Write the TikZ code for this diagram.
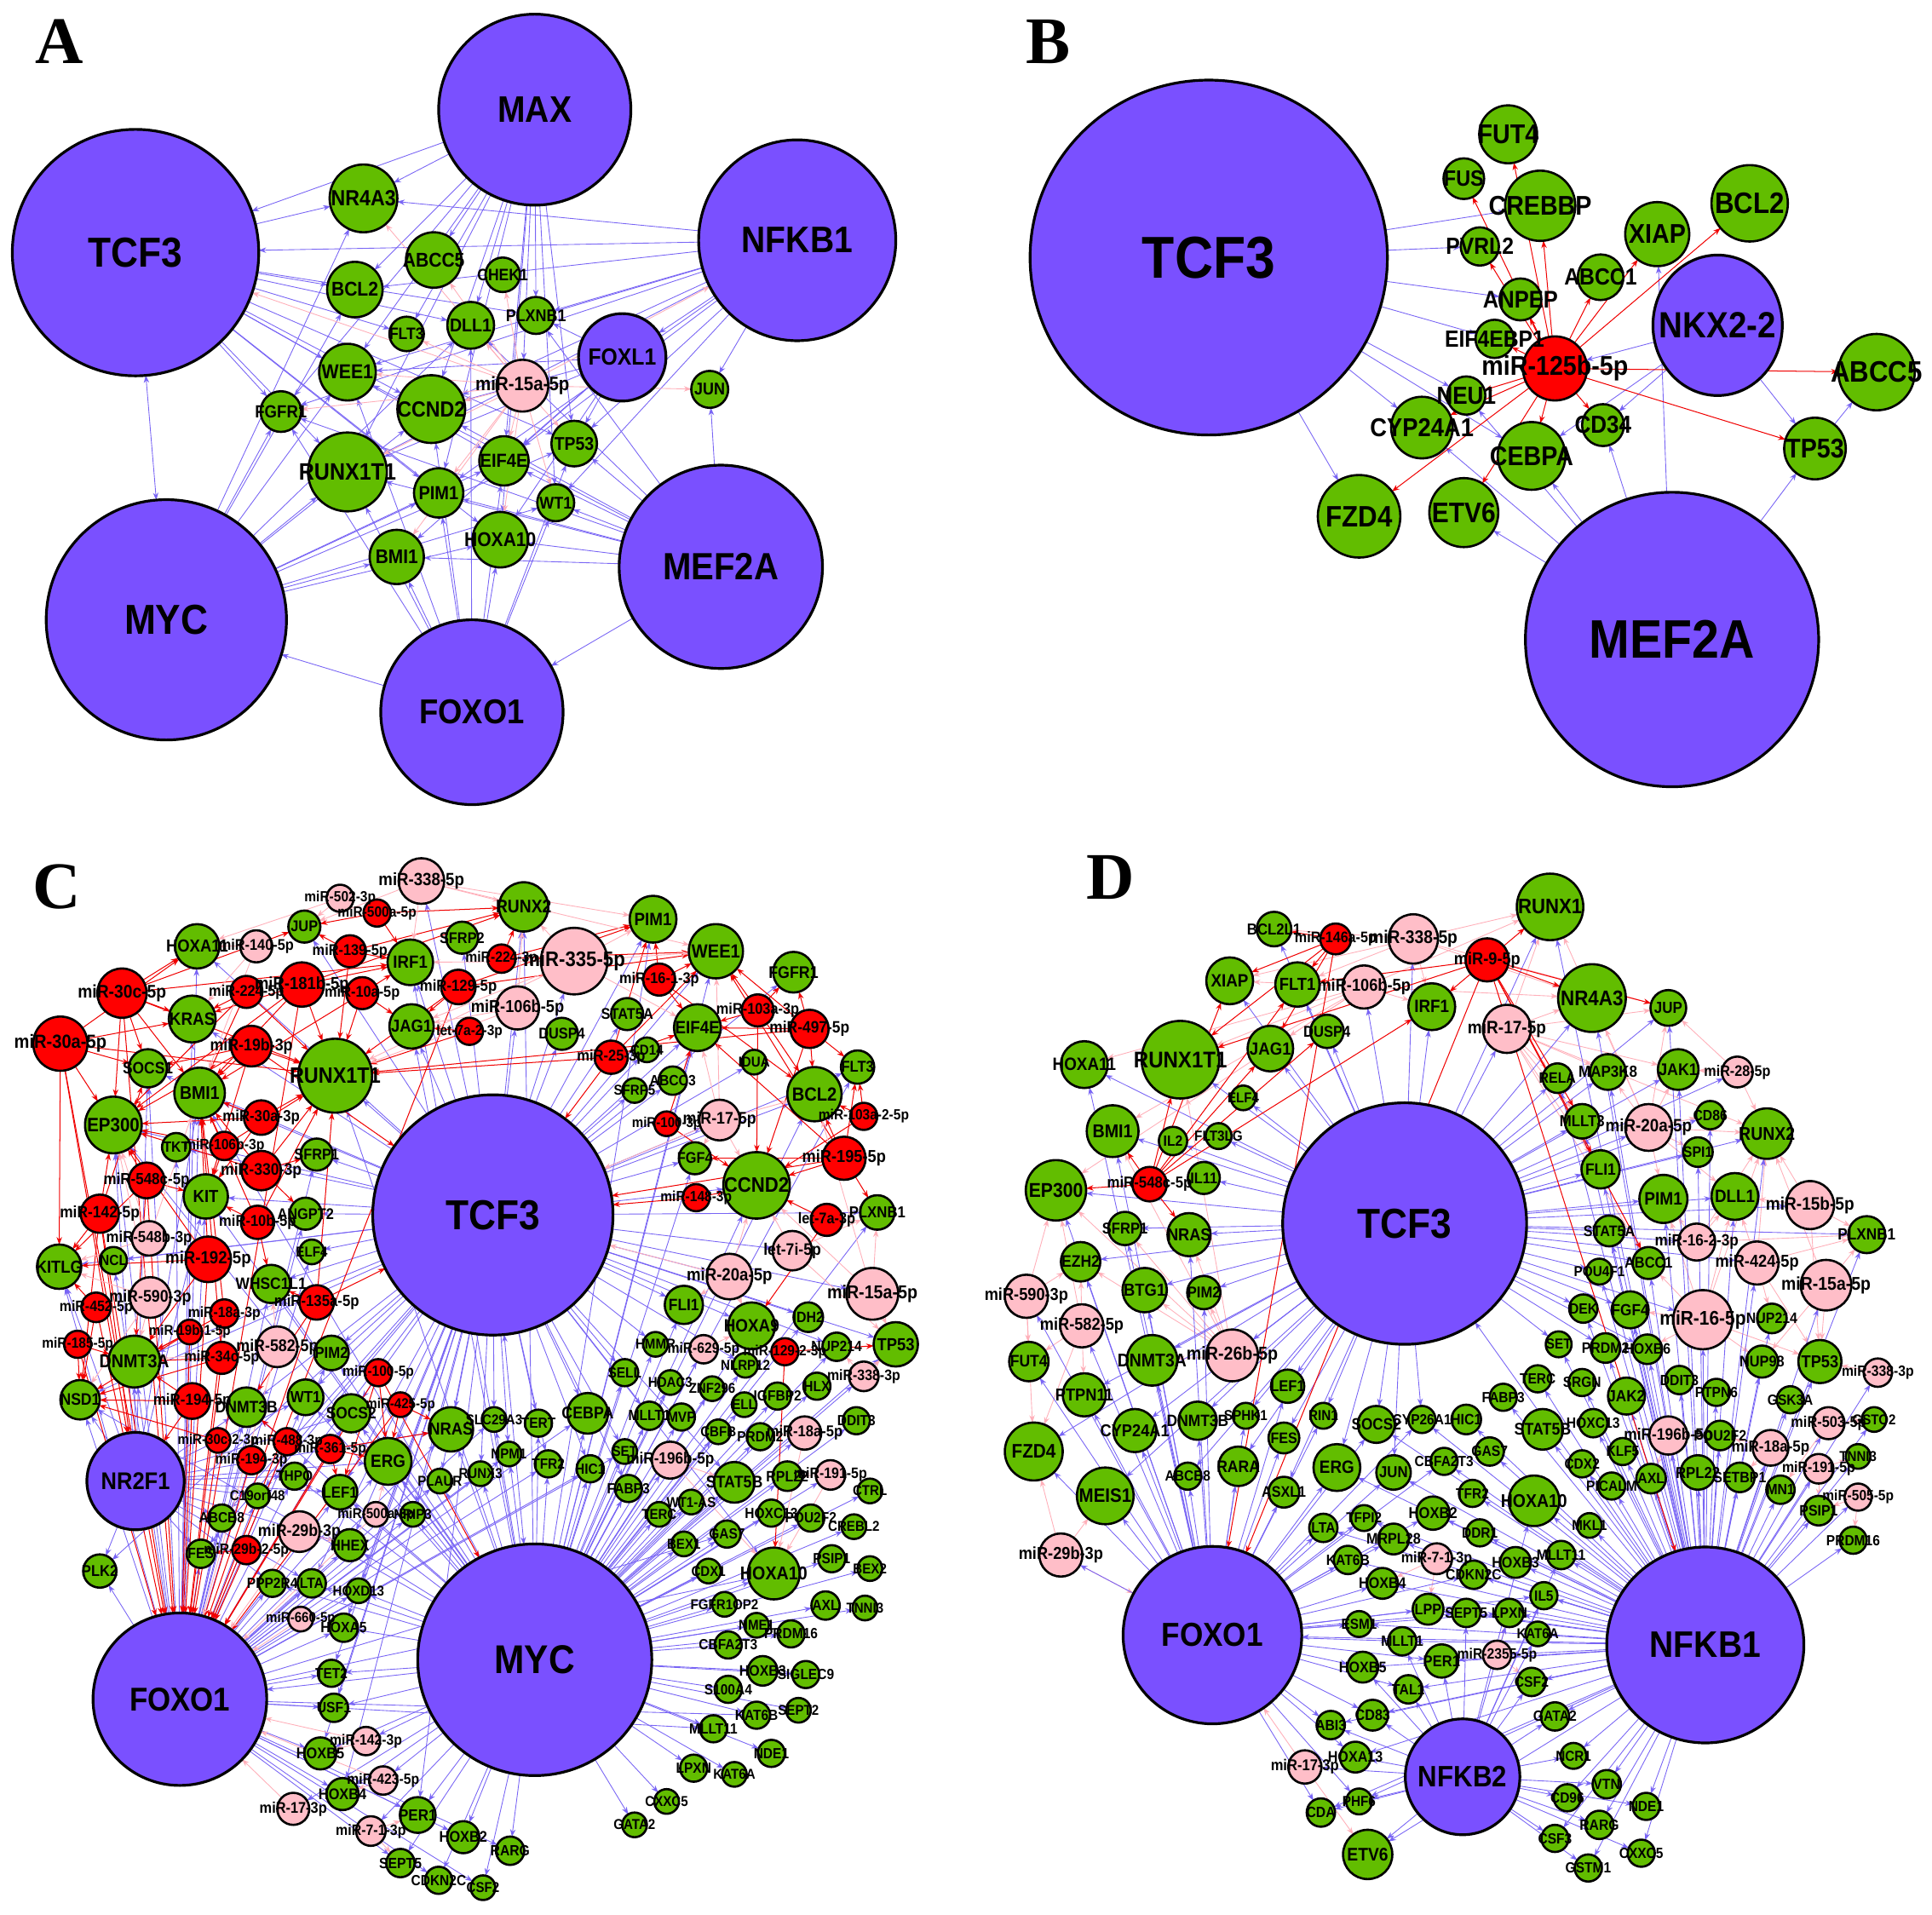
\documentclass[tikz,border=0pt]{standalone}
\usepackage{fontspec}
\usetikzlibrary{shapes.geometric,arrows.meta}
\newfontfamily\lab{Liberation Sans}[FakeStretch=0.9]
\newfontfamily\serb{Liberation Serif}
\definecolor{hubc}{RGB}{122,80,255}
\definecolor{genc}{RGB}{98,189,0}
\definecolor{pnkc}{RGB}{255,190,200}
\definecolor{redc}{RGB}{255,0,0}
\definecolor{bedge}{RGB}{120,100,245}
\definecolor{pedge}{RGB}{255,175,185}
\definecolor{redge}{RGB}{240,0,0}
\pgfdeclarelayer{bg}\pgfsetlayers{bg,main}
\tikzset{
  nd/.style={ellipse, draw=black, line width=0.9pt, inner sep=0pt, outer sep=0pt},
  gn/.style={nd, fill=genc}, rd/.style={nd, fill=redc}, pk/.style={nd, fill=pnkc},
  hb/.style={nd, fill=hubc, line width=1.1pt},
  lbl/.style={inner sep=0pt, text=black},
  be/.style={draw=bedge, line width=0.3pt, -{Stealth[length=3pt,width=2.2pt]}},
  bde/.style={draw=bedge, line width=0.3pt, {Stealth[length=3pt,width=2.2pt]}-{Stealth[length=3pt,width=2.2pt]}},
  pe/.style={draw=pedge, line width=0.3pt, -{Stealth[length=3pt,width=2.2pt]}},
  re/.style={draw=redge, line width=0.35pt, -{Stealth[length=3pt,width=2.2pt]}},
  pl/.style={font=\serb\bfseries\fontsize{27}{27}\selectfont, inner sep=0pt}
}
\makeatletter
\newcommand\alllabels{}
\newcommand\addlab[1]{\g@addto@macro\alllabels{#1}}
\makeatother
\def\fa{4.2}\def\fb{0.08}
\newcommand\ND[7][]{%
  \node[#2, minimum width=#6*0.5pt, minimum height=#6*0.5pt] (#3) at (#4,#5) {};
  \ifx\relax#1\relax\pgfmathsetmacro\fsz{\fa+\fb*#6}\else\def\fsz{#1}\fi
  \edef\tmplab{\noexpand\node[lbl, font=\noexpand\lab\noexpand\bfseries\noexpand\fontsize{\fsz}{\fsz}\noexpand\selectfont] (#3-t) at (#4,#5) {\unexpanded{#7}};}%
  \expandafter\addlab\expandafter{\tmplab}}
\newcommand\NH[7]{%
  \node[hb, minimum width=#4*0.5pt, minimum height=#5*0.5pt] (#1) at (#2,#3) {};
  \addlab{\node[lbl, font=\lab\bfseries\fontsize{#6}{#6}\selectfont] (#1-t) at (#2,#3) {#7};}}
\newcommand\EE[3]{\foreach \t in {#3} {\draw[#1] (#2) -- (\t);}}
\begin{document}
\begin{tikzpicture}[x=0.5pt,y=-0.5pt]
\begin{pgfonlayer}{bg}
\fill[white] (0,0) rectangle (1568,1554);
\end{pgfonlayer}
\path[use as bounding box] (0,0) rectangle (1568,1554);
\node[pl] (labA) at (48,34) {A};
\node[pl] (labB) at (851,34) {B};
\node[pl] (labC) at (46,720) {C};
\node[pl] (labD) at (901,712) {D};
% ================= PANEL A =================
\def\fa{4.5}
\NH{aMAX}{434}{89}{156}{155}{15}{MAX}
\NH{aTCF3}{110}{205}{200}{200}{17}{TCF3}
\NH{aNFKB1}{647}{195}{160}{163}{15}{NFKB1}
\NH{aMYC}{135}{503}{195}{195}{17}{MYC}
\NH{aFOXO1}{383}{578}{148}{150}{14}{FOXO1}
\NH{aMEF2A}{585}{460}{165}{165}{15.4}{MEF2A}
\NH{aFOXL1}{505}{290}{71}{71}{9.5}{FOXL1}
\ND{gn}{aNR4A3}{295}{161}{55}{NR4A3}
\ND{gn}{aABCC5}{352}{211}{45}{ABCC5}
\ND{gn}{aCHEK1}{408}{223}{28}{CHEK1}
\ND{gn}{aBCL2}{288}{235}{45}{BCL2}
\ND{gn}{aPLXNB1}{435}{256}{30}{PLXNB1}
\ND{gn}{aDLL1}{382}{264}{38}{DLL1}
\ND{gn}{aFLT3}{330}{271}{28}{FLT3}
\ND{gn}{aWEE1}{282}{302}{46}{WEE1}
\ND{gn}{aCCND2}{350}{332}{55}{CCND2}
\ND{pk}{amiR}{424}{313}{42}{miR-15a-5p}
\ND{gn}{aJUN}{576}{316}{30}{JUN}
\ND{gn}{aFGFR1}{228}{334}{33}{FGFR1}
\ND{gn}{aRUNX}{282}{383}{64}{RUNX1T1}
\ND{gn}{aEIF4E}{409}{374}{40}{EIF4E}
\ND{gn}{aTP53}{466}{360}{37}{TP53}
\ND{gn}{aPIM1}{356}{400}{40}{PIM1}
\ND{gn}{aWT1}{451}{408}{30}{WT1}
\ND{gn}{aHOXA10}{406}{438}{45}{HOXA10}
\ND{gn}{aBMI1}{322}{452}{44}{BMI1}
\begin{pgfonlayer}{bg}
\EE{be}{aMAX}{aTCF3,aNR4A3,aBCL2,aABCC5,aFLT3,aDLL1,aPLXNB1,aWEE1,aCCND2,aRUNX,aFGFR1,amiR,aEIF4E,aTP53,aWT1,aPIM1,aHOXA10}
\EE{be}{aTCF3}{aNR4A3,aBCL2,aDLL1,aPLXNB1,aFLT3,aWEE1,aFGFR1,aCCND2,aRUNX,aPIM1,aEIF4E,aTP53,aHOXA10}
\draw[bde] (aTCF3) -- (aMYC);
\EE{be}{aNFKB1}{aTCF3,aNR4A3,aBCL2,aPLXNB1,aFOXL1,aJUN,aWEE1,aCCND2,aEIF4E,aTP53,aWT1,aRUNX,aPIM1,aFGFR1}
\EE{be}{aMYC}{aFGFR1,aRUNX,aWEE1,aBCL2,aCCND2,aPIM1,aEIF4E,aBMI1,aHOXA10,aTP53,aWT1,aDLL1,aNR4A3}
\EE{be}{aFOXO1}{aMYC,aBMI1,aPIM1,aHOXA10,aRUNX,aCCND2,aFGFR1,aWEE1,aEIF4E,aDLL1,aTP53,aWT1}
\EE{be}{aMEF2A}{aFOXO1,aJUN,aWT1,aTP53,aHOXA10,aEIF4E,aPIM1,aBMI1,aRUNX,aCCND2,aFGFR1,aWEE1,aDLL1,aPLXNB1}
\EE{be}{aFOXL1}{aWEE1,aPLXNB1,aEIF4E,aCCND2,aTP53,aBMI1,aHOXA10,aRUNX}
\EE{pe}{amiR}{aTCF3,aNR4A3,aABCC5,aFLT3,aFGFR1,aJUN,aBMI1,aPIM1,aCCND2,aWT1,aWEE1,aHOXA10,aNFKB1,aCHEK1,aEIF4E,aRUNX,aTP53,aDLL1}
\end{pgfonlayer}
% ================= PANEL B =================
\NH{bTCF3}{981}{209}{290}{288}{24}{TCF3}
\NH{bMEF2A}{1357}{519}{238}{239}{22}{MEF2A}
\NH{bNKX}{1394}{264}{105}{114}{14.8}{NKX2-2}
\ND[11]{rd}{bmiR}{1262}{299}{52}{miR-125b-5p}
\ND[11]{gn}{bFUT4}{1224}{109}{47}{FUT4}
\ND[9]{gn}{bFUS}{1188}{145}{33}{FUS}
\ND[11]{gn}{bCREBBP}{1250}{167}{57}{CREBBP}
\ND[12]{gn}{bBCL2}{1420}{165}{62}{BCL2}
\ND[11]{gn}{bXIAP}{1345}{190}{52}{XIAP}
\ND[9.5]{gn}{bPVRL2}{1201}{200}{31}{PVRL2}
\ND[9.5]{gn}{bABCC1}{1299}{225}{37}{ABCC1}
\ND[9.8]{gn}{bANPEP}{1234}{243}{34}{ANPEP}
\ND[9.5]{gn}{bEIF}{1213}{275}{31}{EIF4EBP1}
\ND[12]{gn}{bABCC5}{1523}{302}{62}{ABCC5}
\ND[10]{gn}{bNEU1}{1190}{321}{31}{NEU1}
\ND[10.5]{gn}{bCYP}{1154}{347}{50}{CYP24A1}
\ND[10]{gn}{bCD34}{1301}{345}{34}{CD34}
\ND[11]{gn}{bCEBPA}{1243}{370}{55}{CEBPA}
\ND[11]{gn}{bTP53}{1473}{364}{50}{TP53}
\ND[12]{gn}{bFZD4}{1103}{419}{67}{FZD4}
\ND[11.5]{gn}{bETV6}{1188}{416}{56}{ETV6}
\begin{pgfonlayer}{bg}
\EE{be}{bTCF3}{bCREBBP,bPVRL2,bANPEP,bEIF,bNEU1,bCYP,bCEBPA,bFZD4}
\EE{be}{bMEF2A}{bETV6,bCEBPA,bCYP,bCD34,bXIAP,bTP53,bNEU1}
\EE{be}{bNKX}{bmiR,bCD34,bCEBPA,bTP53}
\draw[be] (bTP53) -- (bABCC5);
\EE{re}{bmiR}{bFUT4,bFUS,bCREBBP,bPVRL2,bANPEP,bEIF,bABCC1,bXIAP,bBCL2,bABCC5,bTP53,bCD34,bCEBPA,bETV6,bFZD4,bNEU1,bCYP}
\end{pgfonlayer}
% ================= PANEL C =================
\def\fa{4.2}
\NH{cTCF3}{400}{986}{195}{195}{17}{TCF3}
\NH{cMYC}{434}{1347}{190}{188}{16.3}{MYC}
\NH{cFOXO1}{146}{1379}{141}{140}{13.4}{FOXO1}
\NH{cNR2F1}{110}{1202}{79}{79}{9.8}{NR2F1}
\ND{gn}{cHOXA11}{160}{768}{36}{HOXA11}
\ND{pk}{c338}{342}{715}{37}{miR-338-5p}
\ND{pk}{c502}{276}{729}{22}{miR-502-3p}
\ND{rd}{c500a}{306}{741}{22}{miR-500a-5p}
\ND{gn}{cJUP}{247}{752}{26}{JUP}
\ND{pk}{c140}{208}{768}{26}{miR-140-5p}
\ND{rd}{c139}{284}{772}{26}{miR-139-5p}
\ND{gn}{cIRF1}{333}{781}{37}{IRF1}
\ND{gn}{cSFRP2}{375}{761}{26}{SFRP2}
\ND{rd}{c30c}{99}{806}{40}{miR-30c-5p}
\ND{rd}{c224}{200}{805}{26}{miR-224-5p}
\ND{rd}{c181b}{245}{799}{36}{miR-181b-5p}
\ND{rd}{c10a}{294}{806}{26}{miR-10a-5p}
\ND{rd}{c129}{372}{801}{28}{miR-129-5p}
\ND{gn}{cKRAS}{156}{827}{38}{KRAS}
\ND{gn}{cJAG1}{334}{833}{36}{JAG1}
\ND{rd}{clet7a2}{381}{837}{22}{let-7a-2-3p}
\ND{rd}{c30a5}{49}{847}{44}{miR-30a-5p}
\ND{rd}{c19b3}{204}{849}{33}{miR-19b-3p}
\ND{gn}{cSOCS1}{120}{867}{31}{SOCS1}
\ND{gn}{cRUNX1T1}{272}{873}{60}{RUNX1T1}
\ND{gn}{cBMI1}{162}{887}{41}{BMI1}
\ND{gn}{cEP300}{92}{913}{46}{EP300}
\ND{rd}{c30a3}{212}{907}{28}{miR-30a-3p}
\ND{gn}{cTKT}{143}{931}{23}{TKT}
\ND{rd}{c106b3}{182}{930}{23}{miR-106b-3p}
\ND{gn}{cSFRP1}{257}{937}{26}{SFRP1}
\ND{rd}{c330}{212}{950}{32}{miR-330-3p}
\ND{rd}{c548c}{119}{958}{29}{miR-548c-5p}
\ND{gn}{cKIT}{167}{971}{36}{KIT}
\ND{rd}{c142}{81}{985}{31}{miR-142-5p}
\ND{rd}{c10b}{209}{992}{27}{miR-10b-5p}
\ND{gn}{cANGPT2}{248}{985}{26}{ANGPT2}
\ND{pk}{c548b}{121}{1005}{28}{miR-548b-3p}
\ND{gn}{cELF4}{253}{1016}{20}{ELF4}
\ND{gn}{cKITLG}{48}{1028}{36}{KITLG}
\ND{gn}{cNCL}{92}{1023}{22}{NCL}
\ND{rd}{c192}{169}{1022}{37}{miR-192-5p}
\ND{gn}{cWHSC}{220}{1042}{31}{WHSC1L1}
\ND{pk}{c590}{122}{1053}{33}{miR-590-3p}
\ND{rd}{c135a}{257}{1057}{28}{miR-135a-5p}
\ND{rd}{c452}{78}{1061}{24}{miR-452-5p}
\ND{rd}{c18a3}{182}{1066}{23}{miR-18a-3p}
\ND{rd}{c185}{63}{1091}{22}{miR-185-5p}
\ND{rd}{c19b1}{154}{1081}{20}{miR-19b-1-5p}
\ND{pk}{c582}{225}{1093}{33}{miR-582-5p}
\ND{gn}{cPIM2}{269}{1098}{28}{PIM2}
\ND{gn}{cDNMT3A}{109}{1105}{42}{DNMT3A}
\ND{rd}{c34c}{180}{1102}{26}{miR-34c-5p}
\ND{rd}{c100}{307}{1114}{22}{miR-100-5p}
\ND{gn}{cRUNX2}{425}{736}{40}{RUNX2}
\ND{rd}{c224b}{407}{778}{23}{miR-224-3p}
\ND{pk}{c335}{466}{780}{54}{miR-335-5p}
\ND{gn}{cPIM1}{530}{746}{38}{PIM1}
\ND{gn}{cWEE1}{581}{772}{44}{WEE1}
\ND{rd}{c161}{535}{795}{26}{miR-16-1-3p}
\ND{gn}{cFGFR1}{644}{789}{33}{FGFR1}
\ND{pk}{c106b5}{420}{818}{35}{miR-106b-5p}
\ND{gn}{cSTAT5A}{509}{823}{26}{STAT5A}
\ND{gn}{cDUSP4}{456}{839}{26}{DUSP4}
\ND{gn}{cEIF4E}{566}{834}{38}{EIF4E}
\ND{rd}{c103a}{615}{820}{26}{miR-103a-3p}
\ND{rd}{c497}{657}{835}{31}{miR-497-5p}
\ND{rd}{c25}{496}{858}{27}{miR-25-3p}
\ND{gn}{cCD14}{525}{852}{20}{CD14}
\ND{gn}{cIDUA}{612}{862}{20}{IDUA}
\ND{gn}{cFLT3}{696}{866}{27}{FLT3}
\ND{gn}{cABCC3}{546}{877}{23}{ABCC3}
\ND{gn}{cSFRP5}{515}{885}{20}{SFRP5}
\ND{gn}{cBCL2}{661}{888}{44}{BCL2}
\ND{rd}{c1003}{541}{912}{20}{miR-100-3p}
\ND{pk}{c17}{584}{909}{33}{miR-17-5p}
\ND{rd}{c103a2}{701}{906}{22}{miR-103a-2-5p}
\ND{gn}{cFGF4}{564}{940}{26}{FGF4}
\ND{rd}{c195}{685}{940}{35}{miR-195-5p}
\ND{gn}{cCCND2}{614}{962}{54}{CCND2}
\ND{rd}{c148}{565}{972}{22}{miR-148-3p}
\ND{rd}{clet7a}{671}{990}{26}{let-7a-3p}
\ND{gn}{cPLXNB1}{712}{984}{28}{PLXNB1}
\ND{pk}{clet7i}{643}{1015}{32}{let-7i-5p}
\ND{pk}{c20a}{592}{1036}{37}{miR-20a-5p}
\ND{pk}{c15a}{708}{1050}{42}{miR-15a-5p}
\ND{gn}{cFLI1}{555}{1059}{31}{FLI1}
\ND{gn}{cIDH2}{656}{1069}{24}{IDH2}
\ND{gn}{cHOXA9}{610}{1076}{38}{HOXA9}
\ND{gn}{cTP53}{727}{1091}{36}{TP53}
\ND{gn}{cNUP214}{679}{1093}{23}{NUP214}
\ND{gn}{cHMMR}{532}{1091}{20}{HMMR}
\ND{pk}{c629}{571}{1095}{23}{miR-629-5p}
\ND{rd}{c1292}{637}{1097}{22}{miR-129-2-3p}
\ND{gn}{cNLRP12}{605}{1108}{20}{NLRP12}
\ND{gn}{cSELL}{507}{1114}{22}{SELL}
\ND{pk}{c3383}{701}{1117}{24}{miR-338-3p}
\ND{gn}{cNSD1}{65}{1136}{32}{NSD1}
\ND{rd}{c194}{156}{1137}{29}{miR-194-5p}
\ND{gn}{cDNMT3B}{200}{1142}{32}{DNMT3B}
\ND{gn}{cWT1}{248}{1134}{29}{WT1}
\ND{gn}{cSOCS2}{285}{1147}{31}{SOCS2}
\ND{rd}{c425}{325}{1140}{20}{miR-425-5p}
\ND{gn}{cNRAS}{366}{1160}{36}{NRAS}
\ND{rd}{c30c2}{177}{1169}{20}{miR-30c-2-3p}
\ND{rd}{c488}{233}{1170}{22}{miR-488-3p}
\ND{rd}{c361}{268}{1176}{23}{miR-361-5p}
\ND{rd}{c1943}{204}{1185}{23}{miR-194-3p}
\ND{gn}{cERG}{315}{1186}{38}{ERG}
\ND{gn}{cTHPO}{239}{1198}{22}{THPO}
\ND{gn}{cPLAUR}{357}{1202}{20}{PLAUR}
\ND{gn}{cRUNX3}{390}{1196}{20}{RUNX3}
\ND{gn}{cC19}{209}{1214}{20}{C19orf48}
\ND{gn}{cLEF1}{276}{1211}{28}{LEF1}
\ND{gn}{cABCB8}{180}{1232}{22}{ABCB8}
\ND{pk}{c500a3}{305}{1229}{20}{miR-500a-3p}
\ND{gn}{cNRIP3}{335}{1229}{20}{NRIP3}
\ND{pk}{c29b3}{243}{1243}{33}{miR-29b-3p}
\ND{gn}{cHHEX}{284}{1254}{26}{HHEX}
\ND{gn}{cFES}{163}{1261}{23}{FES}
\ND{rd}{c29b2}{200}{1258}{23}{miR-29b-2-5p}
\ND{gn}{cPLK2}{81}{1275}{27}{PLK2}
\ND{gn}{cPPP2R4}{221}{1285}{22}{PPP2R4}
\ND{gn}{cLTA}{253}{1285}{23}{LTA}
\ND{gn}{cHOXD13}{291}{1291}{20}{HOXD13}
\ND{pk}{c660}{244}{1314}{20}{miR-660-5p}
\ND{gn}{cHOXA5}{279}{1321}{23}{HOXA5}
\ND{gn}{cTET2}{269}{1358}{22}{TET2}
\ND{gn}{cUSF1}{271}{1386}{23}{USF1}
\ND{pk}{c1423}{297}{1413}{23}{miR-142-3p}
\ND{gn}{cHOXB5}{260}{1423}{26}{HOXB5}
\ND{pk}{c423}{311}{1445}{23}{miR-423-5p}
\ND{gn}{cHOXB4}{278}{1456}{26}{HOXB4}
\ND{pk}{c173}{238}{1468}{26}{miR-17-3p}
\ND{gn}{cPER1}{339}{1473}{29}{PER1}
\ND{pk}{c71}{301}{1486}{24}{miR-7-1-3p}
\ND{gn}{cHOXB2}{376}{1491}{26}{HOXB2}
\ND{gn}{cSEPT5}{325}{1512}{23}{SEPT5}
\ND{gn}{cCDKN2C}{356}{1526}{22}{CDKN2C}
\ND{gn}{cCSF2}{392}{1532}{20}{CSF2}
\ND{gn}{cHDAC3}{544}{1122}{20}{HDAC3}
\ND{gn}{cZNF296}{578}{1127}{20}{ZNF296}
\ND{gn}{cHLX}{663}{1125}{22}{HLX}
\ND{gn}{cIGFBP2}{631}{1133}{22}{IGFBP2}
\ND{gn}{cELL}{604}{1140}{20}{ELL}
\ND{gn}{cSLC}{401}{1152}{20}{SLC29A3}
\ND{gn}{cTERT}{437}{1155}{22}{TERT}
\ND{gn}{cCEBPA}{477}{1147}{33}{CEBPA}
\ND{gn}{cMLLT1}{527}{1149}{23}{MLLT1}
\ND{gn}{cMVP}{553}{1150}{22}{MVP}
\ND{gn}{cDDIT3}{695}{1153}{22}{DDIT3}
\ND{gn}{cCBFB}{583}{1162}{20}{CBFB}
\ND{gn}{cPRDM2}{617}{1166}{22}{PRDM2}
\ND{pk}{c18a5}{653}{1163}{27}{miR-18a-5p}
\ND{gn}{cNPM1}{413}{1180}{20}{NPM1}
\ND{gn}{cTFR2}{445}{1188}{22}{TFR2}
\ND{gn}{cHIC1}{479}{1192}{22}{HIC1}
\ND{gn}{cSET}{507}{1178}{20}{SET}
\ND{pk}{c196b}{544}{1185}{30}{miR-196b-5p}
\ND{gn}{cSTAT5B}{596}{1203}{33}{STAT5B}
\ND{gn}{cRPL22}{639}{1198}{24}{RPL22}
\ND{pk}{c191}{674}{1197}{24}{miR-191-5p}
\ND{gn}{cCTRL}{706}{1210}{20}{CTRL}
\ND{gn}{cFABP3}{510}{1208}{22}{FABP3}
\ND{gn}{cWT1AS}{561}{1219}{20}{WT1-AS}
\ND{gn}{cTERC}{535}{1229}{20}{TERC}
\ND{gn}{cHOXC13}{626}{1228}{22}{HOXC13}
\ND{gn}{cPOU2F2}{658}{1232}{22}{POU2F2}
\ND{gn}{cCREBL2}{693}{1239}{20}{CREBL2}
\ND{gn}{cGAS7}{590}{1245}{22}{GAS7}
\ND{gn}{cBEX1}{555}{1253}{20}{BEX1}
\ND{gn}{cHOXA10}{628}{1277}{42}{HOXA10}
\ND{gn}{cPSIP1}{675}{1265}{22}{PSIP1}
\ND{gn}{cBEX2}{706}{1273}{20}{BEX2}
\ND{gn}{cCDX1}{575}{1275}{20}{CDX1}
\ND{gn}{cFGFR1OP2}{588}{1302}{20}{FGFR1OP2}
\ND{gn}{cAXL}{670}{1303}{23}{AXL}
\ND{gn}{cTNNI3}{702}{1305}{20}{TNNI3}
\ND{gn}{cNME1}{614}{1319}{20}{NME1}
\ND{gn}{cPRDM16}{642}{1326}{22}{PRDM16}
\ND{gn}{cCBFA2T3}{591}{1335}{22}{CBFA2T3}
\ND{gn}{cHOXB3}{619}{1356}{24}{HOXB3}
\ND{gn}{cSIGLEC9}{654}{1359}{22}{SIGLEC9}
\ND{gn}{cS100A4}{591}{1371}{22}{S100A4}
\ND{gn}{cKAT6B}{614}{1392}{22}{KAT6B}
\ND{gn}{cSEPT2}{648}{1388}{20}{SEPT2}
\ND{gn}{cMLLT11}{579}{1403}{22}{MLLT11}
\ND{gn}{cNDE1}{626}{1423}{22}{NDE1}
\ND{gn}{cLPXN}{563}{1435}{22}{LPXN}
\ND{gn}{cKAT6A}{596}{1440}{20}{KAT6A}
\ND{gn}{cCXXC5}{541}{1462}{20}{CXXC5}
\ND{gn}{cGATA2}{515}{1481}{20}{GATA2}
\ND{gn}{cRARG}{414}{1502}{23}{RARG}
\begin{pgfonlayer}{bg}
\EE{be}{cTCF3}{cRUNX2,cIRF1,cJAG1,cSFRP2,cJUP,cHOXA11,cKRAS,cSOCS1,cRUNX1T1,cBMI1,cEP300,cTKT,cSFRP1,cKIT,cANGPT2,cELF4,cKITLG,cNCL,cWHSC,cPIM2,cDNMT3A,cPIM1,cWEE1,cFGFR1,cSTAT5A,cDUSP4,cEIF4E,cCD14,cIDUA,cFLT3,cABCC3,cSFRP5,cBCL2,cFGF4,cCCND2,cPLXNB1,cFLI1,cIDH2,cHOXA9,cTP53,cNUP214,cHMMR,cNLRP12,cSELL,cNSD1,cDNMT3B,cWT1,cSOCS2,cNRAS,cERG,cTHPO,cPLAUR,cRUNX3,cC19,cLEF1,cABCB8,cNRIP3,cHHEX,cFES,cPLK2,cLTA,cHOXD13,cHOXA5,cTET2,cUSF1,cHOXB5,cHOXB4,cPER1,cCEBPA,cMLLT1,cTERT,cSLC,cNPM1,cTFR2,cHIC1,cSET,cSTAT5B,cHOXA10,cFABP3,c338,c335,c106b5,c17,c20a,clet7i,c15a}
\EE{be}{cMYC}{cCEBPA,cMLLT1,cMVP,cSELL,cHDAC3,cZNF296,cELL,cIGFBP2,cHLX,cDDIT3,cCBFB,cPRDM2,cNPM1,cTFR2,cHIC1,cSET,cSTAT5B,cRPL22,cCTRL,cFABP3,cWT1AS,cTERC,cHOXC13,cPOU2F2,cCREBL2,cGAS7,cBEX1,cHOXA10,cPSIP1,cBEX2,cCDX1,cFGFR1OP2,cAXL,cTNNI3,cNME1,cPRDM16,cCBFA2T3,cHOXB3,cSIGLEC9,cS100A4,cKAT6B,cSEPT2,cMLLT11,cNDE1,cLPXN,cKAT6A,cCXXC5,cGATA2,cRARG,cCSF2,cCDKN2C,cHOXB2,cSEPT5,cPER1,cHOXB4,cHOXB5,cUSF1,cTET2,cHOXA5,cHOXD13,cLTA,cPPP2R4,cHHEX,cNRIP3,cLEF1,cERG,cNRAS,cPLAUR,cRUNX3,cSLC,cTERT,cFLI1,cHOXA9,cHMMR,cNLRP12,cTP53,cIDH2,cNUP214,cPLXNB1,cCCND2,cBCL2,cFLT3,cFGF4,cEIF4E,cWEE1,cPIM1,cRUNX2,cIRF1,cJAG1,cRUNX1T1,cKIT,cBMI1,cEP300,cWHSC,cPIM2,cWT1,cSOCS2,cDNMT3B,cNSD1,cTHPO,cFOXO1,c196b,c18a5,c191,c3383,c629,c1423,c423,c71,c173}
\draw[bde] (cMYC) -- (cTCF3);
\EE{be}{cFOXO1}{cNSD1,cDNMT3A,cKITLG,cEP300,cBMI1,cKIT,cSOCS1,cWHSC,cDNMT3B,cWT1,cSOCS2,cNRAS,cERG,cLEF1,cTHPO,cC19,cABCB8,cFES,cPLK2,cPPP2R4,cLTA,cHOXD13,cHOXA5,cTET2,cUSF1,cHOXB5,cHOXB4,cPER1,cHOXB2,cSEPT5,cCDKN2C,cCSF2,cHHEX,cNRIP3,cPLAUR,cRUNX3,cPIM2,cELF4,cANGPT2,cSFRP1,cNCL,cTKT,cKRAS,cHOXA11,cCEBPA,cSET,cTFR2,cHIC1,cNPM1,cSLC,cHOXA10,cGAS7,cMLLT11,cKAT6B,cRARG}
\EE{be}{cNR2F1}{cNSD1,cPLK2,cDNMT3A,cKITLG,cEP300,cSOCS1,cFES,cABCB8,cC19,cLEF1,cWT1,cDNMT3B,cTHPO,cERG,cNRAS,cHHEX,cLTA,cPPP2R4,cSOCS2,cKIT,cBMI1}
\EE{re}{c30a5}{cEP300,cSOCS1,cKITLG,cHOXA11,cKRAS,cFOXO1,cNR2F1,cRUNX1T1}
\EE{re}{c30c}{cHOXA11,cKRAS,cEP300,cSOCS1,cBMI1,cRUNX1T1,cJUP,cFOXO1,cIRF1}
\EE{re}{c224}{cKRAS,cBMI1,cRUNX1T1,cEP300}
\EE{re}{c181b}{cRUNX1T1,cKRAS,cBMI1,cEP300,cRUNX2,cIRF1,cFOXO1}
\EE{re}{c10a}{cRUNX1T1,cJAG1,cIRF1,cBMI1}
\EE{re}{c129}{cRUNX1T1,cPIM1,cWEE1,cJAG1,cFOXO1}
\EE{re}{c139}{cIRF1,cRUNX1T1,cJUP,cRUNX2}
\EE{re}{c500a}{cRUNX2,cJUP,cIRF1}
\EE{re}{c19b3}{cBMI1,cEP300,cRUNX1T1,cSOCS1,cTCF3,cKIT}
\EE{re}{c30a3}{cEP300,cBMI1,cRUNX1T1,cKIT}
\EE{re}{c106b3}{cEP300,cBMI1,cKIT,cRUNX1T1}
\EE{re}{c330}{cRUNX1T1,cBMI1,cEP300,cANGPT2,cSFRP1}
\EE{re}{c548c}{cEP300,cKITLG,cKIT,cDNMT3A,cFOXO1}
\EE{re}{c142}{cKITLG,cEP300,cNSD1,cSOCS1,cFOXO1,cNR2F1}
\EE{re}{c10b}{cBMI1,cRUNX1T1,cKIT,cWHSC}
\EE{re}{c192}{cKITLG,cEP300,cDNMT3A,cBMI1,cFOXO1}
\EE{re}{c135a}{cWHSC,cRUNX1T1,cFOXO1,cDNMT3B,cTCF3}
\EE{re}{c452}{cKITLG,cFOXO1,cNSD1}
\EE{re}{c18a3}{cDNMT3A,cBMI1,cFOXO1}
\EE{re}{c185}{cDNMT3A,cNSD1,cFOXO1}
\EE{re}{c19b1}{cDNMT3A,cFOXO1,cNSD1}
\EE{re}{c34c}{cDNMT3A,cFOXO1,cNSD1,cBMI1}
\EE{re}{c100}{cERG,cMYC,cFOXO1,cLEF1}
\EE{re}{c224b}{cRUNX2,cPIM1,cWEE1}
\EE{re}{c161}{cPIM1,cWEE1,cEIF4E,cBCL2}
\EE{re}{c103a}{cWEE1,cFGFR1,cEIF4E,cBCL2,cCCND2}
\EE{re}{c497}{cWEE1,cFGFR1,cEIF4E,cBCL2,cFLT3,cCCND2,cRUNX1T1}
\EE{re}{c25}{cPIM1,cEIF4E,cRUNX1T1,cWEE1,cTCF3}
\EE{re}{c1003}{cCCND2,cEIF4E}
\EE{re}{c103a2}{cBCL2,cFLT3,cCCND2}
\EE{re}{c195}{cCCND2,cBCL2,cPLXNB1,cFLT3,cWEE1,cEIF4E,cFGF4,cTCF3}
\EE{re}{c148}{cCCND2,cTCF3}
\EE{re}{clet7a}{cCCND2,cHOXA9}
\EE{re}{c1292}{cHOXA10,cTP53}
\EE{re}{c194}{cNSD1,cDNMT3A,cFOXO1,cNR2F1}
\EE{re}{c30c2}{cFOXO1,cNSD1}
\EE{re}{c488}{cFOXO1,cDNMT3B}
\EE{re}{c361}{cFOXO1,cERG,cLEF1,cNRAS}
\EE{re}{c1943}{cFOXO1}
\EE{re}{c29b2}{cFOXO1,cFES}
\EE{re}{c425}{cERG,cNRAS,cFOXO1}
\EE{re}{clet7a2}{cJAG1,cRUNX1T1}
\EE{pe}{c338}{cRUNX2,cIRF1,cJUP,cPIM1,cWEE1}
\EE{pe}{c502}{cJUP,cHOXA11}
\EE{pe}{c140}{cHOXA11,cKRAS,cBMI1}
\EE{pe}{c548b}{cKITLG,cEP300,cBMI1}
\EE{pe}{c590}{cKITLG,cDNMT3A,cNSD1,cEP300}
\EE{pe}{c582}{cDNMT3A,cWHSC,cFOXO1}
\EE{pe}{c335}{cRUNX2,cPIM1,cWEE1,cJAG1,cIRF1,cRUNX1T1,cEIF4E}
\EE{pe}{c106b5}{cRUNX1T1,cJAG1,cRUNX2}
\EE{pe}{c17}{cCCND2,cBCL2,cEIF4E,cWEE1,cFGF4,cTCF3}
\EE{pe}{clet7i}{cCCND2,cPLXNB1,cTP53}
\EE{pe}{c20a}{cCCND2,cHOXA9,cFLI1,cTCF3}
\EE{pe}{c15a}{cCCND2,cTP53,cPLXNB1,cBCL2}
\EE{pe}{c629}{cHOXA9}
\EE{pe}{c3383}{cTP53,cNUP214}
\EE{pe}{c196b}{cHOXA10,cSTAT5B}
\EE{pe}{c18a5}{cHOXA10,cPRDM2}
\EE{pe}{c191}{cHOXA10,cRPL22}
\EE{pe}{c500a3}{cFOXO1,cERG}
\EE{pe}{c29b3}{cFOXO1,cHHEX}
\EE{pe}{c660}{cFOXO1}
\EE{pe}{c1423}{cFOXO1,cHOXB5}
\EE{pe}{c423}{cFOXO1,cHOXB4}
\EE{pe}{c173}{cFOXO1}
\EE{pe}{c71}{cPER1,cSEPT5}
\end{pgfonlayer}
% ================= PANEL D =================
\NH{dTCF3}{1140}{993}{198}{196}{17}{TCF3}
\NH{dFOXO1}{984}{1327}{145}{144}{13.5}{FOXO1}
\NH{dNFKB1}{1384}{1335}{160}{159}{15}{NFKB1}
\NH{dNFKB2}{1187}{1442}{93}{94}{12}{NFKB2}
\ND{gn}{dBCL2L1}{1034}{754}{28}{BCL2L1}
\ND{rd}{d146a}{1084}{762}{25}{miR-146a-5p}
\ND{pk}{d338}{1147}{762}{40}{miR-338-5p}
\ND{gn}{dXIAP}{998}{796}{38}{XIAP}
\ND{gn}{dFLT1}{1053}{799}{36}{FLT1}
\ND{pk}{d106b}{1107}{801}{35}{miR-106b-5p}
\ND{gn}{dIRF1}{1162}{817}{38}{IRF1}
\ND{gn}{dDUSP4}{1077}{837}{27}{DUSP4}
\ND{gn}{dHOXA11}{880}{864}{38}{HOXA11}
\ND{gn}{dRUNX1T1}{958}{860}{63}{RUNX1T1}
\ND{gn}{dJAG1}{1031}{851}{37}{JAG1}
\ND{gn}{dELF4}{1009}{891}{20}{ELF4}
\ND{gn}{dBMI1}{903}{918}{42}{BMI1}
\ND{gn}{dIL2}{952}{926}{23}{IL2}
\ND{gn}{dFLT3LG}{989}{922}{21}{FLT3LG}
\ND{gn}{dEP300}{857}{966}{49}{EP300}
\ND{rd}{d548c}{933}{961}{28}{miR-548c-5p}
\ND{gn}{dIL11}{977}{956}{26}{IL11}
\ND{gn}{dSFRP1}{913}{997}{27}{SFRP1}
\ND{gn}{dNRAS}{965}{1002}{35}{NRAS}
\ND{gn}{dEZH2}{877}{1024}{32}{EZH2}
\ND{gn}{dBTG1}{929}{1047}{36}{BTG1}
\ND{gn}{dPIM2}{977}{1049}{27}{PIM2}
\ND{pk}{d590}{833}{1052}{35}{miR-590-3p}
\ND{pk}{d582}{878}{1076}{35}{miR-582-5p}
\ND{gn}{dFUT4}{835}{1105}{32}{FUT4}
\ND{gn}{dDNMT3A}{935}{1104}{41}{DNMT3A}
\ND{pk}{d26b}{1000}{1100}{42}{miR-26b-5p}
\ND{gn}{dRUNX1}{1258}{736}{54}{RUNX1}
\ND{rd}{d9}{1207}{779}{35}{miR-9-5p}
\ND{gn}{dNR4A3}{1292}{810}{55}{NR4A3}
\ND{gn}{dJUP}{1354}{818}{29}{JUP}
\ND{pk}{d17}{1223}{835}{39}{miR-17-5p}
\ND{gn}{dRELA}{1264}{875}{24}{RELA}
\ND{gn}{dMAP3K8}{1305}{870}{29}{MAP3K8}
\ND{gn}{dJAK1}{1362}{868}{33}{JAK1}
\ND{pk}{d28}{1410}{870}{25}{miR-28-5p}
\ND{gn}{dCD86}{1388}{905}{23}{CD86}
\ND{gn}{dMLLT3}{1284}{910}{28}{MLLT3}
\ND{pk}{d20a}{1338}{915}{38}{miR-20a-5p}
\ND{gn}{dRUNX2}{1434}{920}{41}{RUNX2}
\ND{gn}{dSPI1}{1378}{935}{24}{SPI1}
\ND{gn}{dFLI1}{1299}{949}{31}{FLI1}
\ND{gn}{dPIM1}{1350}{973}{39}{PIM1}
\ND{gn}{dDLL1}{1408}{971}{38}{DLL1}
\ND{pk}{d15b}{1469}{978}{39}{miR-15b-5p}
\ND{gn}{dSTAT5A}{1306}{999}{25}{STAT5A}
\ND{gn}{dPLXNB1}{1515}{1002}{30}{PLXNB1}
\ND{pk}{d162}{1377}{1008}{30}{miR-16-2-3p}
\ND{gn}{dABCC1}{1338}{1025}{26}{ABCC1}
\ND{gn}{dPOU4F1}{1298}{1032}{21}{POU4F1}
\ND{pk}{d424}{1426}{1025}{35}{miR-424-5p}
\ND{pk}{d15a}{1482}{1043}{41}{miR-15a-5p}
\ND{gn}{dDEK}{1285}{1062}{23}{DEK}
\ND{gn}{dFGF4}{1323}{1063}{30}{FGF4}
\ND{pk}{d16}{1382}{1071}{48}{miR-16-5p}
\ND{gn}{dNUP214}{1438}{1070}{24}{NUP214}
\ND{gn}{dSET}{1265}{1091}{21}{SET}
\ND{gn}{dPRDM2}{1303}{1094}{24}{PRDM2}
\ND{gn}{dHOXB6}{1337}{1095}{24}{HOXB6}
\ND{gn}{dNUP98}{1430}{1105}{26}{NUP98}
\ND{gn}{dTP53}{1477}{1105}{35}{TP53}
\ND{pk}{d3383}{1524}{1114}{23}{miR-338-3p}
\ND{gn}{dLEF1}{1045}{1125}{27}{LEF1}
\ND{gn}{dPTPN11}{880}{1132}{35}{PTPN11}
\ND{gn}{dRIN1}{1074}{1149}{21}{RIN1}
\ND{gn}{dDNMT3B}{972}{1153}{31}{DNMT3B}
\ND{gn}{dSPHK1}{1011}{1149}{21}{SPHK1}
\ND{gn}{dSOCS2}{1117}{1156}{30}{SOCS2}
\ND{gn}{dCYP26A1}{1154}{1152}{22}{CYP26A1}
\ND{gn}{dCYP24A1}{921}{1161}{35}{CYP24A1}
\ND{gn}{dFES}{1042}{1167}{25}{FES}
\ND{gn}{dFZD4}{839}{1178}{47}{FZD4}
\ND{gn}{dRARA}{1005}{1190}{32}{RARA}
\ND{gn}{dERG}{1085}{1191}{38}{ERG}
\ND{gn}{dJUN}{1131}{1195}{28}{JUN}
\ND{gn}{dCBFA2T3}{1172}{1186}{22}{CBFA2T3}
\ND{gn}{dABCB8}{964}{1198}{22}{ABCB8}
\ND{gn}{dASXL1}{1042}{1211}{25}{ASXL1}
\ND{gn}{dMEIS1}{897}{1214}{46}{MEIS1}
\ND{gn}{dHOXB2}{1163}{1228}{27}{HOXB2}
\ND{gn}{dTFPI2}{1107}{1232}{21}{TFPI2}
\ND{gn}{dLTA}{1074}{1240}{23}{LTA}
\ND{gn}{dMRPL28}{1131}{1249}{25}{MRPL28}
\ND{pk}{d29b}{861}{1262}{35}{miR-29b-3p}
\ND{gn}{dKAT6B}{1094}{1266}{23}{KAT6B}
\ND{pk}{d71}{1166}{1265}{25}{miR-7-1-3p}
\ND{gn}{dHOXB4}{1122}{1285}{25}{HOXB4}
\ND{gn}{dLPP}{1159}{1306}{25}{LPP}
\ND{gn}{dESM1}{1103}{1318}{21}{ESM1}
\ND{gn}{dMLLT1}{1138}{1332}{23}{MLLT1}
\ND{gn}{dHOXB5}{1106}{1353}{25}{HOXB5}
\ND{gn}{dPER1}{1170}{1348}{27}{PER1}
\ND{gn}{dTAL1}{1143}{1371}{23}{TAL1}
\ND{gn}{dCD83}{1114}{1392}{25}{CD83}
\ND{gn}{dABI3}{1080}{1400}{23}{ABI3}
\ND{gn}{dHOXA13}{1100}{1426}{25}{HOXA13}
\ND{pk}{d173}{1059}{1434}{27}{miR-17-3p}
\ND{gn}{dPHF6}{1103}{1462}{21}{PHF6}
\ND{gn}{dCDA}{1072}{1471}{23}{CDA}
\ND{gn}{dETV6}{1110}{1505}{40}{ETV6}
\ND{gn}{dTERC}{1248}{1119}{22}{TERC}
\ND{gn}{dSRGN}{1284}{1122}{22}{SRGN}
\ND{gn}{dJAK2}{1320}{1133}{30}{JAK2}
\ND{gn}{dDDIT3}{1363}{1120}{23}{DDIT3}
\ND{gn}{dPTPN6}{1393}{1130}{22}{PTPN6}
\ND{gn}{dGSK3A}{1453}{1136}{22}{GSK3A}
\ND{gn}{dFABP3}{1220}{1134}{22}{FABP3}
\ND{gn}{dHIC1}{1190}{1152}{24}{HIC1}
\ND{gn}{dSTAT5B}{1252}{1160}{33}{STAT5B}
\ND{gn}{dHOXC13}{1293}{1155}{23}{HOXC13}
\ND{pk}{d196b}{1354}{1165}{31}{miR-196b-5p}
\ND{gn}{dPOU2F2}{1396}{1165}{24}{POU2F2}
\ND{pk}{d503}{1484}{1155}{26}{miR-503-5p}
\ND{gn}{dGSTO2}{1521}{1152}{20}{GSTO2}
\ND{gn}{dGAS7}{1209}{1178}{23}{GAS7}
\ND{gn}{dKLF5}{1317}{1178}{22}{KLF5}
\ND{gn}{dCDX2}{1284}{1188}{22}{CDX2}
\ND{pk}{d18a}{1437}{1175}{29}{miR-18a-5p}
\ND{gn}{dTNNI3}{1508}{1182}{20}{TNNI3}
\ND{pk}{d191}{1476}{1192}{24}{miR-191-5p}
\ND{gn}{dRPL22}{1378}{1195}{28}{RPL22}
\ND{gn}{dSETBP1}{1412}{1199}{24}{SETBP1}
\ND{gn}{dAXL}{1340}{1200}{24}{AXL}
\ND{gn}{dPICALM}{1308}{1206}{22}{PICALM}
\ND{gn}{dTFR2}{1195}{1212}{22}{TFR2}
\ND{gn}{dHOXA10}{1245}{1218}{41}{HOXA10}
\ND{gn}{dMN1}{1445}{1209}{23}{MN1}
\ND{pk}{d505}{1508}{1215}{22}{miR-505-5p}
\ND{gn}{dPSIP1}{1476}{1226}{24}{PSIP1}
\ND{gn}{dMKL1}{1290}{1238}{20}{MKL1}
\ND{gn}{dPRDM16}{1504}{1250}{22}{PRDM16}
\ND{gn}{dDDR1}{1201}{1244}{22}{DDR1}
\ND{gn}{dMLLT11}{1267}{1262}{23}{MLLT11}
\ND{gn}{dHOXB3}{1230}{1268}{25}{HOXB3}
\ND{gn}{dCDKN2C}{1196}{1278}{23}{CDKN2C}
\ND{gn}{dIL5}{1253}{1295}{22}{IL5}
\ND{gn}{dSEPT5}{1190}{1309}{23}{SEPT5}
\ND{gn}{dLPXN}{1225}{1309}{23}{LPXN}
\ND{gn}{dKAT6A}{1248}{1326}{20}{KAT6A}
\ND{pk}{d2355}{1215}{1343}{23}{miR-2355-5p}
\ND{gn}{dCSF2}{1243}{1365}{23}{CSF2}
\ND{gn}{dGATA2}{1262}{1393}{23}{GATA2}
\ND{gn}{dNCR1}{1277}{1425}{21}{NCR1}
\ND{gn}{dVTN}{1304}{1448}{23}{VTN}
\ND{gn}{dCD96}{1272}{1459}{22}{CD96}
\ND{gn}{dNDE1}{1336}{1466}{22}{NDE1}
\ND{gn}{dRARG}{1298}{1481}{23}{RARG}
\ND{gn}{dCSF3}{1262}{1492}{22}{CSF3}
\ND{gn}{dCXXC5}{1332}{1504}{22}{CXXC5}
\ND{gn}{dGSTM1}{1289}{1516}{22}{GSTM1}
\begin{pgfonlayer}{bg}
\EE{pe}{d338}{dRUNX1,dNR4A3,dFLT1,dIRF1,dJUP,dBCL2L1,dXIAP}
\EE{pe}{d106b}{dRUNX1T1,dJAG1,dXIAP,dIRF1,dRUNX1,dNR4A3,dHOXA11,dBMI1,dEP300}
\EE{pe}{d17}{dRUNX1,dNR4A3,dMLLT3,dFLI1,dJAK1,dRELA,dABCC1,dMAP3K8,dRUNX2,dJUP}
\EE{pe}{d20a}{dJAK1,dMAP3K8,dSPI1,dCD86,dRUNX2,dPIM1,dDLL1,dNR4A3,dJUP,dRUNX1}
\EE{pe}{d28}{dJAK1,dRUNX2,dJUP}
\EE{pe}{d15b}{dRUNX2,dPLXNB1,dDLL1,dTP53}
\EE{pe}{d162}{dPIM1,dDLL1,dRUNX2,dPLXNB1}
\EE{pe}{d424}{dRUNX2,dPLXNB1,dDLL1,dTP53,dNUP214}
\EE{pe}{d15a}{dPLXNB1,dTP53,dRUNX2,dNUP98}
\EE{pe}{d16}{dPIM1,dDLL1,dFGF4,dABCC1,dNUP98,dTP53,dHOXB6,dRUNX2}
\EE{pe}{d590}{dEP300,dFUT4,dFZD4,dEZH2}
\EE{pe}{d582}{dFUT4,dFZD4,dEP300,dEZH2,dPTPN11}
\EE{pe}{d29b}{dFZD4,dMEIS1,dFOXO1}
\EE{pe}{d26b}{dDNMT3A,dBTG1,dPIM2,dNRAS,dEP300,dBMI1,dRUNX1T1,dEZH2,dSFRP1}
\EE{pe}{d173}{dETV6,dFOXO1}
\EE{pe}{d196b}{dPOU2F2,dAXL}
\EE{pe}{d503}{dGSTO2,dMN1}
\EE{pe}{d18a}{dSETBP1,dPOU2F2}
\EE{pe}{d191}{dPSIP1,dTNNI3}
\EE{pe}{d505}{dPRDM16,dPSIP1}
\EE{pe}{d71}{dHOXB4,dLPP}
\EE{pe}{d2355}{dLPXN,dCSF2}
\EE{pe}{d3383}{dTP53}
\EE{be}{dTCF3}{dBCL2L1,dXIAP,dFLT1,dIRF1,dDUSP4,dHOXA11,dRUNX1T1,dJAG1,dELF4,dBMI1,dIL2,dFLT3LG,dEP300,dIL11,dSFRP1,dNRAS,dEZH2,dBTG1,dPIM2,dDNMT3A,dRUNX1,dNR4A3,dJUP,dRELA,dMAP3K8,dJAK1,dMLLT3,dFLI1,dPIM1,dDLL1,dSTAT5A,dPLXNB1,dABCC1,dPOU4F1,dDEK,dFGF4,dSET,dPRDM2,dHOXB6,dRUNX2,dSPI1,dCD86,dLEF1,dPTPN11,dRIN1,dDNMT3B,dSPHK1,dSOCS2,dCYP26A1,dCYP24A1,dFES,dFZD4,dRARA,dERG,dJUN,dMEIS1,dABCB8,dASXL1,d338,d106b,d17,d28,d20a,d162,d424,d15b,d16,d26b}
\EE{be}{dNFKB1}{dTERC,dSRGN,dJAK2,dDDIT3,dPTPN6,dGSK3A,dFABP3,dHIC1,dSTAT5B,dHOXC13,dPOU2F2,dGSTO2,dGAS7,dKLF5,dCDX2,dTNNI3,dRPL22,dSETBP1,dAXL,dPICALM,dTFR2,dHOXA10,dMN1,dPSIP1,dMKL1,dPRDM16,dDDR1,dMLLT11,dHOXB3,dCDKN2C,dIL5,dSEPT5,dLPXN,dKAT6A,dCSF2,dGATA2,dNCR1,dVTN,dCD96,dNDE1,dRARG,dCSF3,dCXXC5,dGSTM1,dNUP98,dTP53,dNUP214,dHOXB6,dPRDM2,dSET,dFGF4,dDEK,dPIM1,dDLL1,dRUNX2,dPLXNB1,dJAK1,dNR4A3,dRUNX1,dJUP,dCD86,dSPI1,dFLI1,dMLLT3,dSTAT5A,dABCC1,dPOU4F1,dMAP3K8,dRELA,dERG,dJUN,dCBFA2T3,dHOXB2,dMRPL28,dKAT6B,dHOXB4,dLPP,dESM1,dMLLT1,dHOXB5,dPER1,dTAL1,dCD83,dABI3,dHOXA13,dPHF6,dCDA,dETV6,dLTA,dTFPI2,dSOCS2,dCYP26A1,dFOXO1,dTCF3,d503,d18a,d191,d505,d196b,d3383,d2355,d16,d15a,d424}
\EE{be}{dFOXO1}{dFZD4,dMEIS1,dPTPN11,dCYP24A1,dDNMT3B,dABCB8,dRARA,dFES,dSPHK1,dLEF1,dASXL1,dERG,dLTA,dRIN1,dSOCS2,dJUN,dKAT6B,dHOXB4,dLPP,dESM1,dMLLT1,dHOXB5,dPER1,dTAL1,dCD83,dABI3,dHOXA13,dPHF6,dCDA,dTFPI2,dMRPL28,dHOXB2,dCBFA2T3,dCYP26A1,d29b,dFUT4,dDNMT3A,dBTG1,dEZH2,dPIM2,dNRAS,dSFRP1,dEP300,dBMI1,dHOXA11,d590,d582,dCDKN2C,dSEPT5,dLPXN,dIL5}
\EE{be}{dNFKB2}{dETV6,dCDA,dPHF6,dHOXA13,dNCR1,dVTN,dCD96,dNDE1,dRARG,dCSF3,dCXXC5,dGSTM1,dGATA2,dCSF2,dKAT6A,dABI3,dCD83,dTAL1,dPER1,dHOXB5,dMLLT1,dLPXN,dSEPT5,dIL5,d173,dHOXA10,dMLLT11}
\EE{re}{d146a}{dBCL2L1,dXIAP,dFLT1,dRUNX1T1,dJAG1,dFOXO1}
\EE{re}{d9}{dRUNX1,dNR4A3,dFLT1,dRUNX1T1,dIRF1,dMLLT3,dFLI1,dABCC1,dNFKB1,dFOXO1,dJUP}
\EE{re}{d548c}{dEP300,dBMI1,dRUNX1T1,dXIAP,dFLT1,dJAG1,dDUSP4,dIRF1,dNRAS}
\end{pgfonlayer}
% ================= LABELS ON TOP =================
\alllabels
\end{tikzpicture}
\end{document}
